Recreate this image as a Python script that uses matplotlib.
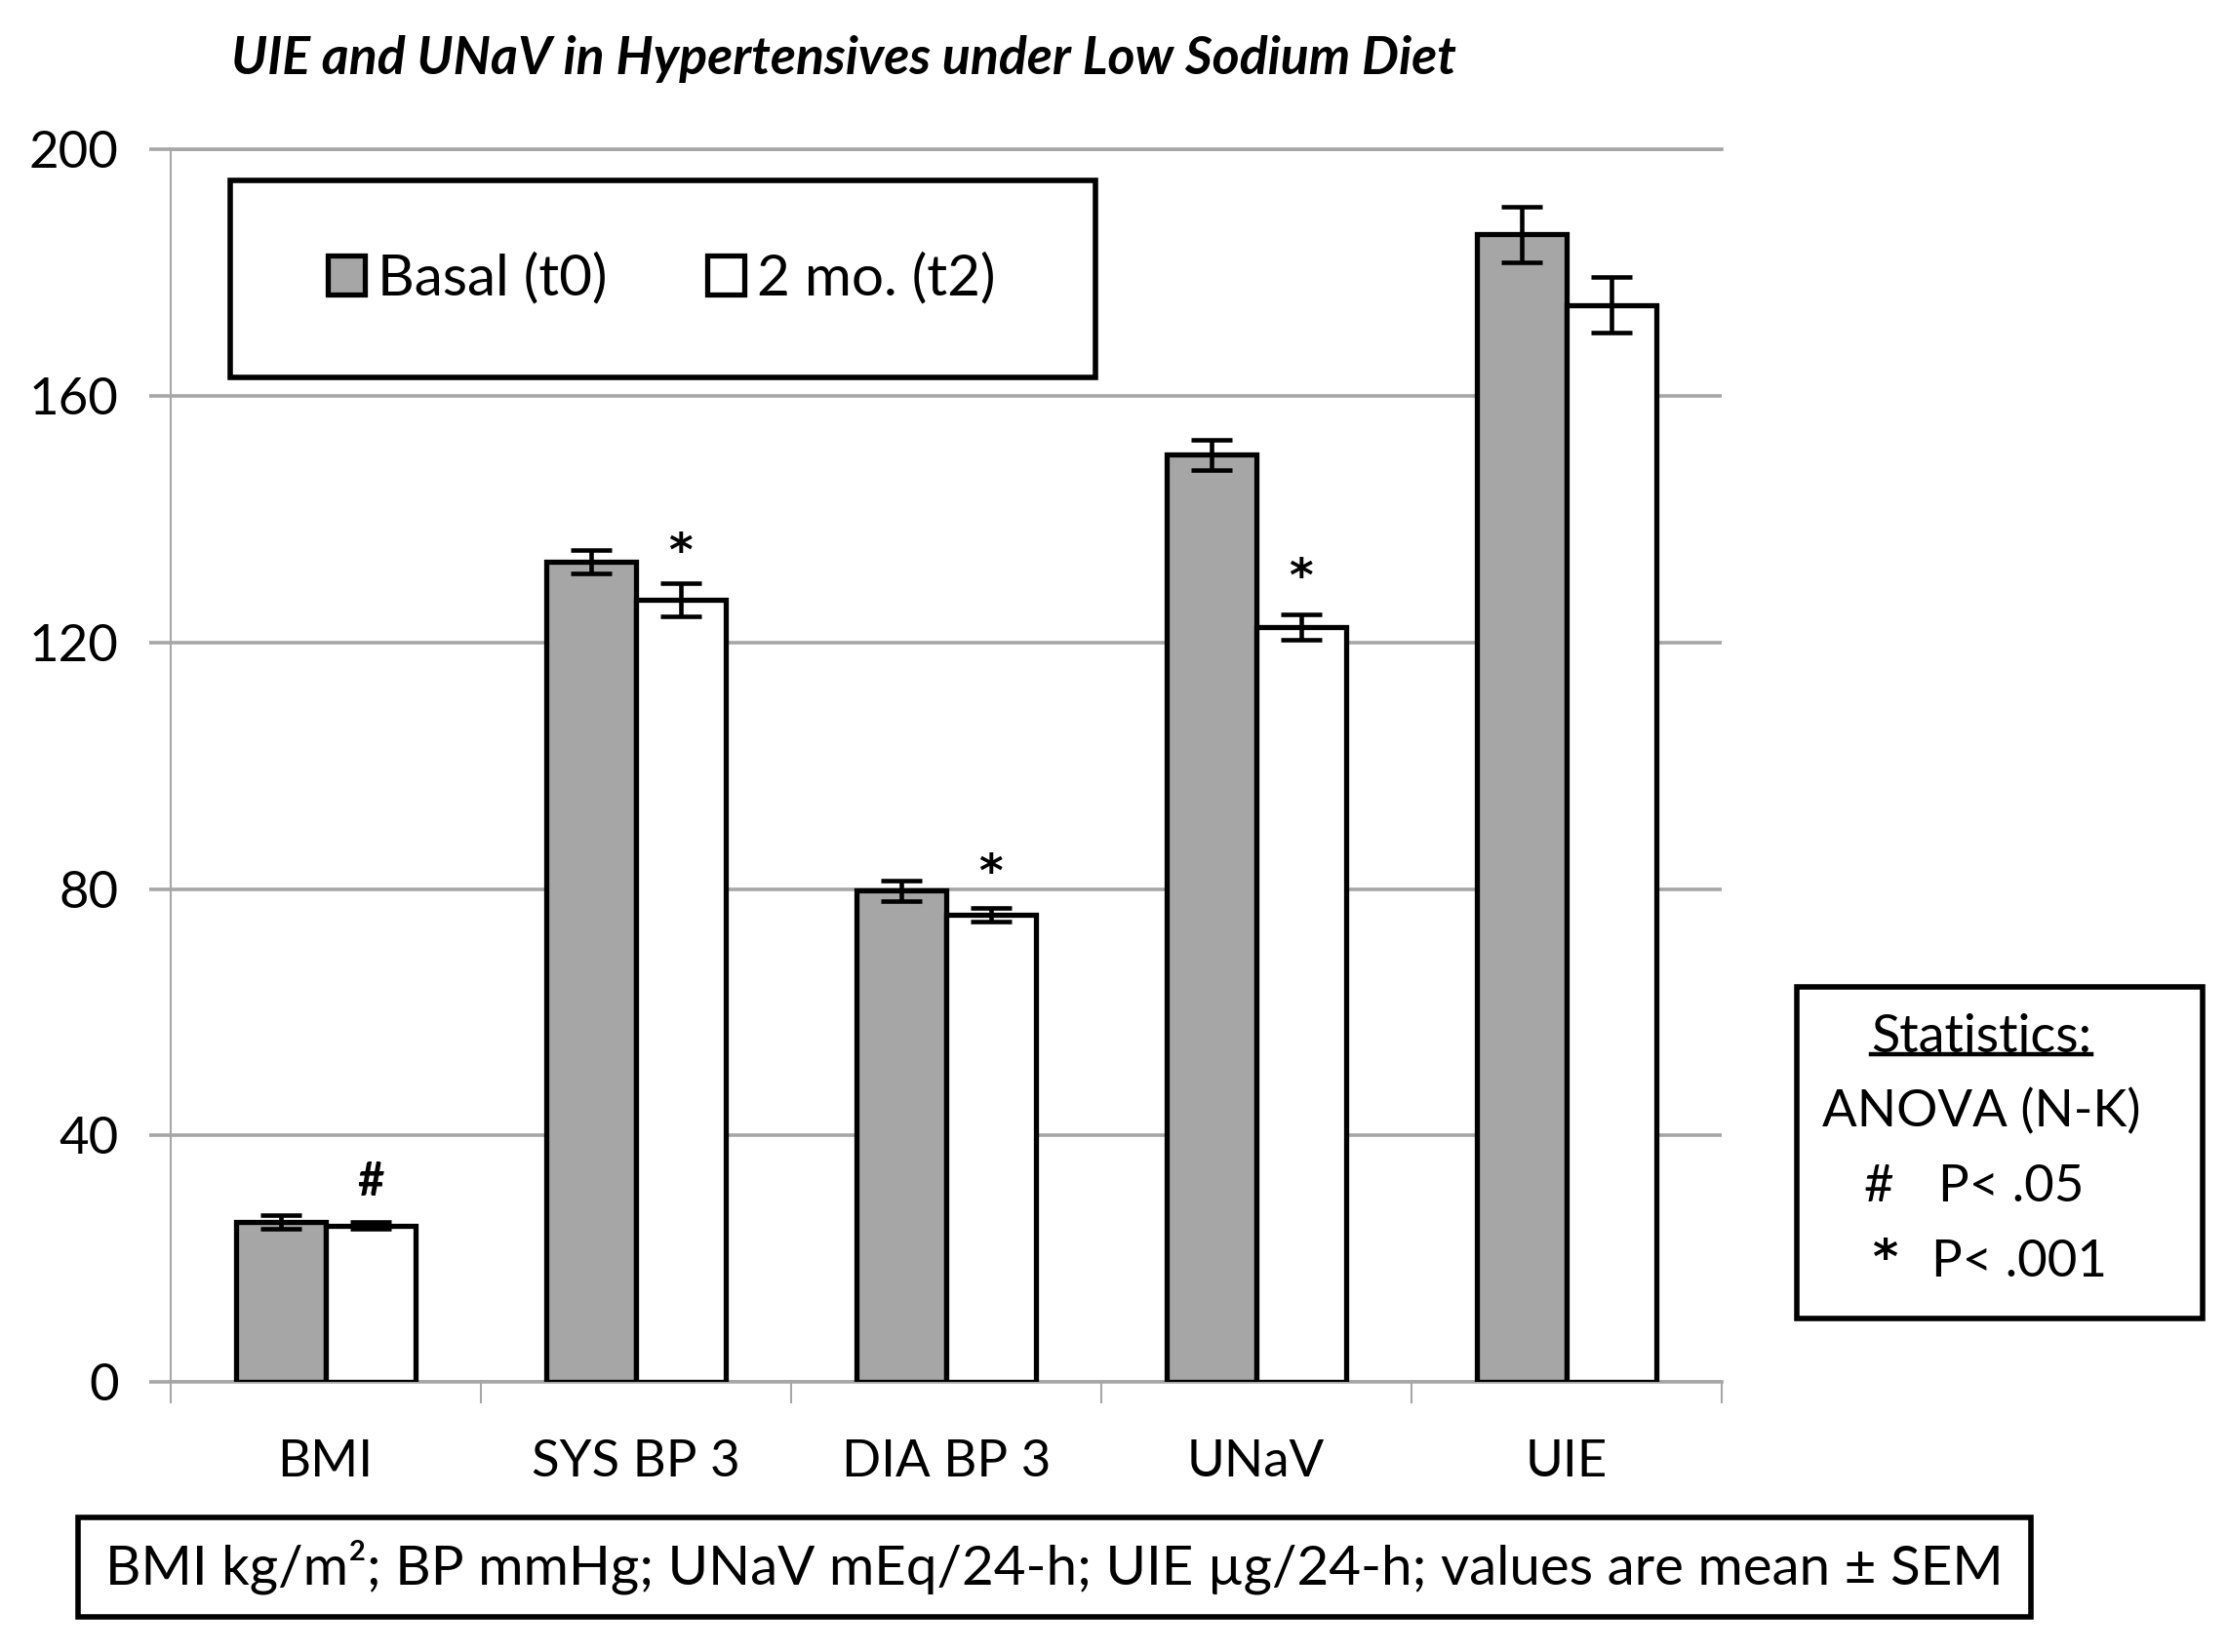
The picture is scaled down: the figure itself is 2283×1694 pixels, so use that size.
import numpy as np
import matplotlib
matplotlib.use("Agg")
import matplotlib.pyplot as plt
from matplotlib.patches import Rectangle
from matplotlib.lines import Line2D

plt.rcParams['font.family'] = ['Lato', 'DejaVu Sans']

categories = ["BMI", "SYS BP 3", "DIA BP 3", "UNaV", "UIE"]
basal = [26.0, 133.0, 79.7, 150.4, 186.2]
basal_err = [1.1, 1.9, 1.7, 2.5, 4.5]
t2 = [25.4, 126.9, 75.8, 122.5, 174.7]
t2_err = [0.6, 2.7, 1.1, 2.0, 4.5]
sig_marks = ["#", "*", "*", "*", ""]
sig_y = [32.5, 136.8, 84.7, 132.6, 0]
series_labels = ["Basal (t0)", "2 mo. (t2)"]
yticks = [0, 40, 80, 120, 160, 200]
title = "UIE and UNaV in Hypertensives under Low Sodium Diet"
footnote = "BMI kg/m²; BP mmHg; UNaV mEq/24-h; UIE µg/24-h; values are mean ± SEM"
stats_lines = ["Statistics:", "ANOVA (N-K)"]

W, H = 2283, 1694
fig = plt.figure(figsize=(W / 100, H / 100), dpi=100)
renderer = fig.canvas.get_renderer()

def fit(t, target_px):
    bb = t.get_window_extent(renderer)
    t.set_fontsize(t.get_fontsize() * target_px / bb.width)

GRID = '#a6a6a6'
ax = fig.add_axes([0.0765, 0.1634, 0.773 - 0.0765, 0.9097 - 0.1634])
x = np.arange(len(categories))
w = 0.289
ekw = dict(ecolor='black', elinewidth=3.3, capsize=15, capthick=3.3, zorder=5)
b1 = ax.bar(x - w / 2, basal, w, yerr=basal_err, color='#a6a6a6', edgecolor='black',
            linewidth=3.8, error_kw=ekw, label=series_labels[0], zorder=3)
b2 = ax.bar(x + w / 2, t2, w, yerr=t2_err, color='white', edgecolor='black',
            linewidth=3.8, error_kw=ekw, label=series_labels[1], zorder=3)

ax.set_xlim(-0.5, len(categories) - 0.5)
ax.set_ylim(0, 200)
ax.set_yticks(yticks)
ax.yaxis.grid(True, color=GRID, linewidth=2.6)
ax.set_axisbelow(True)
ax.spines['right'].set_visible(False)
for s in ['top', 'bottom']:
    ax.spines[s].set_color(GRID)
    ax.spines[s].set_linewidth(2.6)
ax.spines['left'].set_color(GRID)
ax.spines['left'].set_linewidth(1.5)

ax.tick_params(axis='y', direction='out', length=16, width=2.6, color=GRID,
               labelsize=38, pad=22, labelcolor='black')
ax.set_xticks(x)
ax.set_xticklabels(categories)
ax.set_xticks(np.arange(-0.5, len(categories)), minor=True)
ax.tick_params(axis='x', which='major', length=0, labelsize=38, pad=42, labelcolor='black')
ax.tick_params(axis='x', which='minor', direction='out', length=16, width=1.5, color=GRID)

# significance marks above 2 mo. bars
for i, m in enumerate(sig_marks):
    if not m:
        continue
    if m == "*":
        ax.annotate(m, xy=(x[i] + w / 2, sig_y[i]), xytext=(0, -19.5),
                    textcoords='offset points', ha='center', va='baseline',
                    fontsize=34, fontweight='bold', family='DejaVu Sans', zorder=6)
    else:
        ax.annotate(m, xy=(x[i] + w / 2, sig_y[i]), xytext=(0, 0),
                    textcoords='offset points', ha='center', va='center',
                    fontsize=34, fontweight='bold', zorder=6)

# title
tt = fig.text(0.379, 0.964, title, ha='center', va='center', fontsize=32,
              fontweight='bold', style='italic')
fit(tt, 1258)

# legend box
fig.patches.append(Rectangle((0.1033, 0.7713), 0.4917 - 0.1033, 0.8908 - 0.7713,
                             transform=fig.transFigure, fill=False, edgecolor='black',
                             linewidth=4, zorder=5))
fig.legend(handles=[b1, b2], loc='center', bbox_to_anchor=(0.297, 0.8315), ncol=2,
           frameon=False, fontsize=42, handlelength=0.66, handleheight=0.66,
           handletextpad=0.22, columnspacing=1.75)

# statistics box
fig.patches.append(Rectangle((0.8068, 0.2021), 0.9892 - 0.8068, 0.4024 - 0.2021,
                             transform=fig.transFigure, fill=False, edgecolor='black',
                             linewidth=4, zorder=5))
cx = 0.8897
st = fig.text(cx, 0.3723, stats_lines[0], ha='center', va='center', fontsize=39)
bb = st.get_window_extent(renderer)
fig.lines.append(Line2D([bb.x0 / W, bb.x1 / W], [bb.y0 / H + 0.004, bb.y0 / H + 0.004],
                        transform=fig.transFigure, color='black', linewidth=3.2))
fig.text(cx, 0.3268, stats_lines[1], ha='center', va='center', fontsize=38)
fig.text(1323 / 1568, 0.2812, "#", ha='center', va='center', fontsize=38)
fig.text(1365 / 1568, 0.2812, "P< .05", ha='left', va='center', fontsize=38)
fig.text(1327 / 1568, 0.229, "*", ha='center', va='baseline', fontsize=36,
         fontweight='bold', family='DejaVu Sans')
fig.text(1360 / 1568, 0.2356, "P< .001", ha='left', va='center', fontsize=38)

# footnote box
fig.patches.append(Rectangle((0.0351, 0.0215), 0.912 - 0.0351, 0.0817 - 0.0215,
                             transform=fig.transFigure, fill=False, edgecolor='black',
                             linewidth=4, zorder=5))
ft = fig.text(0.4735, 0.0516, footnote, ha='center', va='center', fontsize=36)
fit(ft, 1946)

fig.savefig("out.png", dpi=100)
